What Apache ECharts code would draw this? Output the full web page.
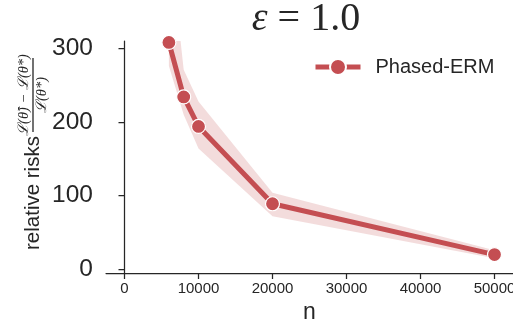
<!DOCTYPE html>
<html>
<head>
<meta charset="utf-8">
<script src="https://cdn.jsdelivr.net/npm/echarts@6/dist/echarts.min.js"></script>
<style>
  html, body { margin: 0; padding: 0; background: #fff; }
  #chart { width: 513px; height: 322px; }
</style>
</head>
<body>
<div id="chart"></div>
<script>
// values
const nValues = [6000, 8000, 10000, 20000, 50000];
const riskMean = [308, 234, 194, 89, 20];
const riskLower = [276, 210, 164, 72, 15];
const riskUpper = [455, 271, 228, 104, 26];
const xTicks = [0, 10000, 20000, 30000, 40000, 50000];
const yTicks = [0, 100, 200, 300];
const seriesName = "Phased-ERM";

const RED = "#c44e52";
const BAND = "rgba(196, 78, 82, 0.2)";
const INK = "#262626";
const SANS = '"Liberation Sans", Arial, sans-serif';
const SERIF = '"Liberation Serif", "DejaVu Serif", serif';

const chart = echarts.init(document.getElementById("chart"), null, { renderer: "canvas" });

// whole confidence band as one polygon (drawn once, from the first item)
function renderBand(params, api) {
  if (params.dataIndex !== 0) return null;
  const upper = nValues.map((n, i) => api.coord([n, riskUpper[i]]));
  const lower = nValues.map((n, i) => api.coord([n, riskLower[i]])).reverse();
  return {
    type: "polygon",
    shape: { points: upper.concat(lower) },
    style: { fill: BAND },
  };
}

const option = {
  animation: false,
  backgroundColor: "#fff",
  grid: { left: 106, right: 0, top: 41, bottom: 49, containLabel: false, outerBoundsMode: "none" },
  legend: {
    data: [seriesName],
    left: 313,
    top: 57,
    padding: 0,
    itemWidth: 45,
    itemHeight: 20,
    itemGap: 10,
    textStyle: { color: INK, fontSize: 20, fontFamily: SANS, padding: [0, 0, 0, 10] },
    lineStyle: { width: 5 },
  },
  xAxis: {
    type: "value",
    min: -2500,
    max: 52500,
    splitLine: { show: false },
    axisLine: { onZero: false, lineStyle: { color: INK, width: 1.25 } },
    axisTick: { length: 6, lineStyle: { color: INK, width: 1.25 }, customValues: xTicks },
    axisLabel: {
      color: INK, fontSize: 15, fontFamily: SANS, margin: 8, customValues: xTicks,
      formatter: (v) => String(v),
    },
    name: "n",
    nameLocation: "middle",
    nameGap: 26,
    nameTextStyle: { color: INK, fontSize: 23, fontFamily: SANS },
  },
  yAxis: {
    type: "value",
    min: -5,
    max: 310,
    splitLine: { show: false },
    axisLine: { lineStyle: { color: INK, width: 1.25 } },
    axisTick: { length: 6, lineStyle: { color: INK, width: 1.25 }, customValues: yTicks },
    axisLabel: {
      color: INK, fontSize: 24.5, fontFamily: SANS, margin: 13, customValues: yTicks,
      formatter: (v) => String(v),
    },
  },
  graphic: [
    {
      type: "text",
      x: 306,
      y: 19,
      style: {
        text: "{e|ε} = 1.0",
        rich: { e: { fontStyle: "italic", fontSize: 40, fontFamily: SERIF, fill: INK } },
        fontSize: 40,
        fontFamily: SERIF,
        fill: INK,
        align: "center",
        verticalAlign: "middle",
      },
    },
    {
      type: "group",
      x: 33,
      y: 190,
      rotation: Math.PI / 2,
      children: [
        {
          type: "text",
          x: -60,
          y: 0,
          style: {
            text: "relative risks",
            fontSize: 20.5,
            fontFamily: SANS,
            fill: INK,
            align: "left",
            verticalAlign: "middle",
          },
        },
        {
          type: "line",
          shape: { x1: 58, y1: 0, x2: 132, y2: 0 },
          style: { stroke: INK, lineWidth: 1.3 },
        },
        {
          type: "text",
          x: 95,
          y: -8.5,
          style: {
            text: "ℒ(θ̂) − ℒ(θ*)",
            fontSize: 14.5,
            fontStyle: "italic",
            fontFamily: SERIF,
            fill: INK,
            align: "center",
            verticalAlign: "middle",
          },
        },
        {
          type: "text",
          x: 95,
          y: 9,
          style: {
            text: "ℒ(θ*)",
            fontSize: 14.5,
            fontStyle: "italic",
            fontFamily: SERIF,
            fill: INK,
            align: "center",
            verticalAlign: "middle",
          },
        },
      ],
    },
  ],
  series: [
    {
      name: "ci",
      type: "custom",
      renderItem: renderBand,
      data: nValues.map((n, i) => [n, riskLower[i], riskUpper[i]]),
      encode: { x: 0, y: [1, 2] },
      silent: true,
      clip: true,
      z: 1,
    },
    {
      name: seriesName,
      type: "line",
      data: nValues.map((n, i) => [n, riskMean[i]]),
      color: RED,
      symbol: "circle",
      symbolSize: 14,
      lineStyle: { color: RED, width: 5 },
      itemStyle: { color: RED, borderColor: "#fff", borderWidth: 1.2 },
      z: 3,
    },
  ],
};

chart.setOption(option);
</script>
</body>
</html>
